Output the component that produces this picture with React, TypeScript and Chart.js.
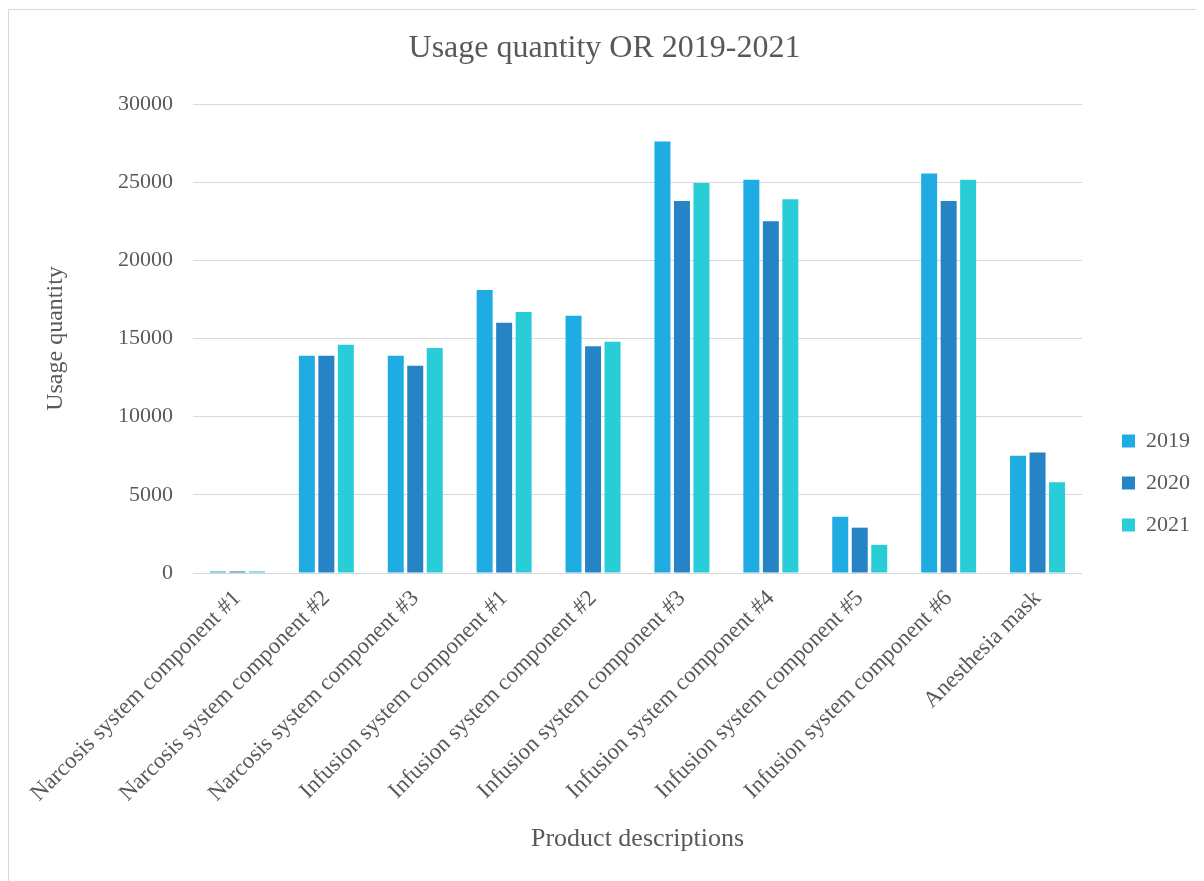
import React, { useEffect, useRef } from "react";
import { Chart, registerables } from "chart.js";

Chart.register(...registerables);

const categories = [
  "Narcosis system component #1",
  "Narcosis system component #2",
  "Narcosis system component #3",
  "Infusion system component #1",
  "Infusion system component #2",
  "Infusion system component #3",
  "Infusion system component #4",
  "Infusion system component #5",
  "Infusion system component #6",
  "Anesthesia mask",
];

const seriesLabels = ["2019", "2020", "2021"];
const values2019 = [100, 13900, 13900, 18100, 16450, 27600, 25150, 3600, 25550, 7500];
const values2020 = [100, 13900, 13250, 16000, 14500, 23800, 22500, 2900, 23800, 7700];
const values2021 = [100, 14600, 14400, 16700, 14800, 24950, 23900, 1800, 25150, 5800];
const seriesColors = ["#1FACE3", "#2683C6", "#29CDD8"];

const yTicks = [0, 5000, 10000, 15000, 20000, 25000, 30000];

const chartTitle = "Usage quantity OR 2019-2021";
const xTitle = "Product descriptions";
const yTitle = "Usage quantity";

const FONT = "'Liberation Serif', 'Times New Roman', serif";
const TEXT = "#595959";
const GRID = "#d9d9d9";

const CANVAS_W = 1202;
const CANVAS_H = 880;

export default function App() {
  const ref = useRef<HTMLCanvasElement | null>(null);

  useEffect(() => {
    document.body.style.overflow = "hidden";
    const canvas = ref.current;
    if (!canvas) return;
    const series = [values2019, values2020, values2021];
    const chart = new Chart(canvas, {
      type: "bar",
      data: {
        labels: categories,
        datasets: seriesLabels.map((label, i) => ({
          label,
          data: series[i],
          backgroundColor: seriesColors[i],
          borderWidth: 0,
          categoryPercentage: 0.658,
          barPercentage: 0.82,
        })),
      },
      options: {
        animation: false,
        responsive: false,
        devicePixelRatio: 1,
        layout: { padding: { left: 0, right: 11, top: 0, bottom: 0 } },
        plugins: {
          tooltip: { enabled: false },
          title: {
            display: true,
            text: chartTitle,
            color: TEXT,
            font: { family: FONT, size: 32, weight: "normal" },
            padding: { top: 19, bottom: 36.6 },
          },
          legend: {
            display: true,
            position: "right",
            align: "center",
            title: {
              display: true,
              text: " ",
              font: { size: 10 },
              padding: { top: 54, bottom: 0 },
            },
            labels: {
              boxWidth: 13,
              boxHeight: 13,
              padding: 20,
              color: TEXT,
              font: { family: FONT, size: 22 },
            },
          },
        },
        scales: {
          x: {
            grid: { display: false },
            border: { display: false },
            ticks: {
              autoSkip: false,
              maxRotation: 45,
              minRotation: 45,
              padding: 4,
              color: TEXT,
              font: { family: FONT, size: 23 },
            },
            title: {
              display: true,
              text: xTitle,
              color: TEXT,
              font: { family: FONT, size: 26 },
              padding: { top: 0, bottom: 35 },
            },
            afterFit: (s: any) => {
              s.height = 317;
            },
          },
          y: {
            min: 0,
            max: 30000,
            grid: { color: GRID, lineWidth: 1, drawTicks: false },
            border: { display: false },
            afterBuildTicks: (s: any) => {
              s.ticks = yTicks.map((v) => ({ value: v }));
            },
            ticks: {
              padding: 20,
              color: TEXT,
              font: { family: FONT, size: 22 },
              callback: (v: any) => String(v),
            },
            title: {
              display: true,
              text: yTitle,
              color: TEXT,
              font: { family: FONT, size: 24 },
              padding: { top: 32, bottom: 0 },
            },
            afterFit: (s: any) => {
              s.width = 184;
            },
          },
          gap: {
            type: "linear",
            position: "right",
            display: true,
            grid: { display: false },
            border: { display: false },
            ticks: { display: false },
            afterFit: (s: any) => {
              s.width = 20;
            },
          },
        },
      },
    } as any);
    return () => chart.destroy();
  }, []);

  return (
    <div
      style={{
        marginTop: 1,
        width: 1204,
        height: 900,
        border: `1px solid ${GRID}`,
        boxSizing: "border-box",
        background: "#fff",
      }}
    >
      <canvas
        ref={ref}
        width={CANVAS_W}
        height={CANVAS_H}
        style={{ display: "block", width: CANVAS_W, height: CANVAS_H }}
      />
    </div>
  );
}
